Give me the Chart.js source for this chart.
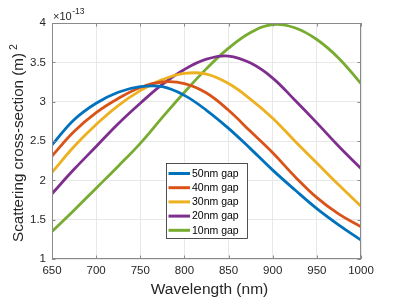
<!DOCTYPE html>
<html>
<head>
<meta charset="utf-8">
<script src="https://cdn.jsdelivr.net/npm/chart.js@4/dist/chart.umd.min.js"></script>
<style>
  html, body { margin: 0; padding: 0; background: #fff; }
  #wrap { width: 399px; height: 299px; position: relative; }
</style>
</head>
<body>
<div id="wrap"><canvas id="scatterChart"></canvas></div>
<script>
// wavelength samples (nm) and cross-section values (x 1e-13 m^2)
const wavelength = [650, 675, 700, 725, 750, 775, 800, 825, 850, 875, 900, 925, 950, 975, 1000];
const gap50 = [2.45, 2.77, 2.98, 3.12, 3.19, 3.19, 3.08, 2.89, 2.66, 2.40, 2.13, 1.88, 1.64, 1.43, 1.24];
const gap40 = [2.31, 2.62, 2.86, 3.04, 3.18, 3.25, 3.23, 3.11, 2.89, 2.62, 2.35, 2.05, 1.78, 1.57, 1.41];
const gap30 = [2.10, 2.43, 2.71, 2.95, 3.14, 3.28, 3.36, 3.35, 3.23, 3.03, 2.79, 2.50, 2.22, 1.94, 1.67];
const gap20 = [1.83, 2.14, 2.43, 2.72, 2.98, 3.22, 3.41, 3.54, 3.58, 3.49, 3.30, 3.02, 2.73, 2.43, 2.15];
const gap10 = [1.35, 1.62, 1.90, 2.18, 2.47, 2.80, 3.12, 3.42, 3.68, 3.88, 3.98, 3.94, 3.79, 3.55, 3.23];

const seriesLabels = ['50nm gap', '40nm gap', '30nm gap', '20nm gap', '10nm gap'];
const seriesColors = ['#0072BD', '#D95319', '#EDB120', '#7E2F8E', '#77AC30'];
const seriesValues = [gap50, gap40, gap30, gap20, gap10];

const FONT = "'Liberation Sans', Arial, sans-serif";
const TEXT = '#262626';

function toPoints(values) {
    return values.map((v, i) => ({ x: wavelength[i], y: v }));
}

// box around the axes with inward ticks on all four sides
const frame = {
    id: 'frame',
    afterDatasetsDraw(chart) {
        const { ctx, chartArea: a, scales } = chart;
        const xs = scales.x, ys = scales.y;
        ctx.save();
        ctx.strokeStyle = '#8a8a8a';
        ctx.lineWidth = 1;
        ctx.strokeRect(a.left + 0.5, a.top + 0.5, a.right - a.left - 1, a.bottom - a.top - 1);
        ctx.beginPath();
        xs.ticks.forEach(t => {
            const px = Math.round(xs.getPixelForValue(t.value)) + 0.5;
            ctx.moveTo(px, a.bottom); ctx.lineTo(px, a.bottom - 3.5);
            ctx.moveTo(px, a.top); ctx.lineTo(px, a.top + 3.5);
        });
        ys.ticks.forEach(t => {
            const py = Math.round(ys.getPixelForValue(t.value)) + 0.5;
            ctx.moveTo(a.left, py); ctx.lineTo(a.left + 3.5, py);
            ctx.moveTo(a.right, py); ctx.lineTo(a.right - 3.5, py);
        });
        ctx.stroke();
        ctx.restore();
    }
};

// axis titles, exponent label and the boxed legend
const annotations = {
    id: 'annotations',
    afterDraw(chart) {
        const { ctx } = chart;
        ctx.save();
        ctx.fillStyle = TEXT;

        // exponent
        ctx.textBaseline = 'alphabetic';
        ctx.textAlign = 'left';
        ctx.font = '11px ' + FONT;
        ctx.fillText('\u00d710', 53, 20);
        const w10 = ctx.measureText('\u00d710').width;
        ctx.font = '8.5px ' + FONT;
        ctx.fillText('-13', 53 + w10 + 0.5, 13.5);

        // x title
        ctx.font = '15.5px ' + FONT;
        ctx.textAlign = 'center';
        ctx.fillText('Wavelength (nm)', 209.5, 294);

        // y title with superscript
        ctx.translate(22.5, 242);
        ctx.rotate(-Math.PI / 2);
        ctx.textAlign = 'left';
        ctx.font = '15.2px ' + FONT;
        const main = 'Scattering cross-section (m)';
        ctx.fillText(main, 0, 0);
        const wm = ctx.measureText(main).width;
        ctx.font = '10.5px ' + FONT;
        ctx.fillText('2', wm + 3, -6);
        ctx.restore();

        // legend
        ctx.save();
        const lx = 166, ly = 163, lw = 81, lh = 75;
        ctx.fillStyle = '#fff';
        ctx.fillRect(lx, ly, lw, lh);
        ctx.strokeStyle = '#262626';
        ctx.lineWidth = 0.8;
        ctx.strokeRect(lx + 0.5, ly + 0.5, lw, lh);
        ctx.font = '10.5px ' + FONT;
        ctx.textBaseline = 'middle';
        ctx.textAlign = 'left';
        chart.data.datasets.forEach((ds, i) => {
            const cy = 173.5 + i * 14.2;
            ctx.strokeStyle = ds.borderColor;
            ctx.lineWidth = 3;
            ctx.beginPath();
            ctx.moveTo(168.5, cy);
            ctx.lineTo(190, cy);
            ctx.stroke();
            ctx.fillStyle = '#000';
            ctx.fillText(ds.label, 192, cy + 0.5);
        });
        ctx.restore();
    }
};

new Chart(document.getElementById('scatterChart'), {
    type: 'line',
    data: {
        datasets: seriesValues.map((vals, i) => ({
            label: seriesLabels[i],
            data: toPoints(vals),
            borderColor: seriesColors[i],
            backgroundColor: seriesColors[i],
            borderWidth: 2.8,
            pointRadius: 0,
            tension: 0.4,
            fill: false
        }))
    },
    options: {
        responsive: true,
        maintainAspectRatio: false,
        animation: false,
        layout: { padding: { left: 0, top: 23, right: 38, bottom: 0 } },
        plugins: {
            legend: { display: false },
            tooltip: { enabled: false },
            title: { display: false }
        },
        scales: {
            x: {
                type: 'linear',
                min: 650,
                max: 1000,
                afterFit: s => { s.height = 40; },
                ticks: {
                    stepSize: 50,
                    padding: 5,
                    color: TEXT,
                    font: { family: FONT, size: 11.5 },
                    maxRotation: 0,
                    callback: v => String(v)
                },
                grid: { color: '#e8e8e8', drawTicks: false },
                border: { display: false }
            },
            y: {
                min: 1,
                max: 4,
                afterFit: s => { s.width = 52; },
                ticks: {
                    stepSize: 0.5,
                    padding: 6,
                    color: TEXT,
                    font: { family: FONT, size: 11.5 },
                    callback: v => String(v)
                },
                grid: { color: '#e8e8e8', drawTicks: false },
                border: { display: false }
            }
        }
    },
    plugins: [frame, annotations]
});
</script>
</body>
</html>
